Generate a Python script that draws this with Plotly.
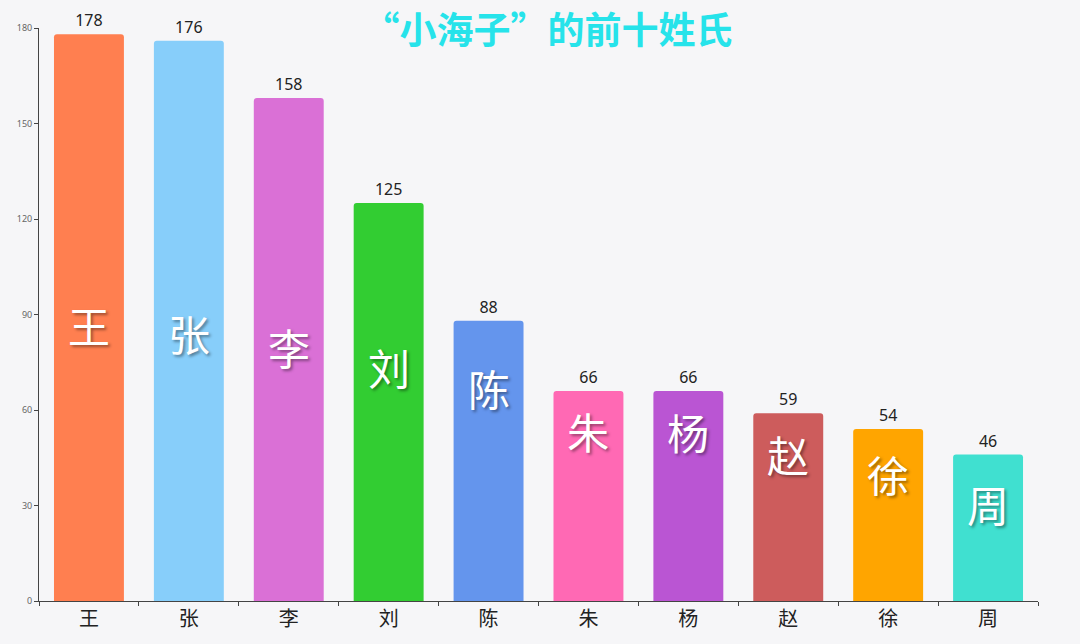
import plotly.graph_objects as go

# Top ten surnames and their counts
surnames = ["王", "张", "李", "刘", "陈", "朱", "杨", "赵", "徐", "周"]
counts = [178, 176, 158, 125, 88, 66, 66, 59, 54, 46]
bar_colors = ["#ff7f50", "#87cefa", "#da70d6", "#32cd32", "#6495ed",
              "#ff69b4", "#ba55d3", "#cd5c5c", "#ffa500", "#40e0d0"]
y_ticks = [0, 30, 60, 90, 120, 150, 180]

# Heights (data units) at which the large in-bar surname sits
inner_label_y = [87.0, 84.2, 79.8, 73.8, 67.2, 53.7, 53.4, 46.2, 40.2, 30.5]

CJK = "Noto Sans CJK SC"

fig = go.Figure(
    go.Bar(
        x=surnames,
        y=counts,
        width=0.7,
        marker=dict(color=bar_colors, line=dict(width=0), cornerradius=3),
        text=counts,
        textposition="outside",
        textfont=dict(family="Noto Sans, " + CJK, size=16, color="#222"),
        cliponaxis=False,
        hoverinfo="skip",
    )
)

for name, ly in zip(surnames, inner_label_y):
    fig.add_annotation(
        x=name, y=ly, xref="x", yref="y",
        text=name, showarrow=False,
        font=dict(family=CJK, size=42, color="#ffffff",
                  shadow="2px 2px 3px rgba(0,0,0,0.4)"),
        xanchor="center", yanchor="middle",
    )

fig.update_layout(
    width=1080, height=644,
    margin=dict(l=39, r=42, t=28, b=43),
    paper_bgcolor="#f6f6f8",
    plot_bgcolor="#f6f6f8",
    showlegend=False,
    bargap=0.3,
    title=dict(
        text="“小海子”的前十姓氏",
        font=dict(family=CJK, size=37, color="#26e3ea", weight="bold"),
        x=0.509, xanchor="center",
        y=1 - 31 / 644, yanchor="middle",
        yref="container", xref="paper",
    ),
    xaxis=dict(
        type="category",
        showgrid=False,
        showline=True, linecolor="#444", linewidth=1,
        ticks="outside", ticklen=4, tickcolor="#444",
        tickson="boundaries",
        tickfont=dict(family=CJK, size=20, color="#222"),
        zeroline=False,
    ),
    yaxis=dict(
        range=[0, 180],
        tickvals=y_ticks,
        showgrid=False,
        showline=True, linecolor="#444", linewidth=1,
        ticks="outside", ticklen=4, tickcolor="#444",
        tickfont=dict(family="Noto Sans", size=9, color="#666"),
        zeroline=False,
    ),
)

fig.write_html("out.html")
